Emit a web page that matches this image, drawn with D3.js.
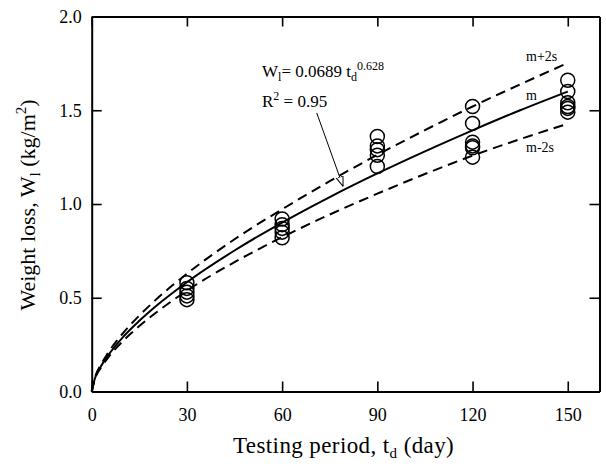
<!DOCTYPE html>
<html>
<head>
<meta charset="utf-8">
<script src="https://cdnjs.cloudflare.com/ajax/libs/d3/7.8.5/d3.min.js"></script>
<style>
  html, body { margin: 0; padding: 0; background: #fff; }
  svg { display: block; font-family: "Liberation Serif", "DejaVu Serif", serif; }
  .axis path, .axis line { stroke: #000; }
  .axis text { font-family: "Liberation Serif", serif; font-size: 18px; fill: #000; }
</style>
</head>
<body>
<div id="chart"></div>
<script>
// ── 1. DATA ────────────────────────────────────────────────────
const obsDay  = [30, 30, 30, 30, 30,
                 60, 60, 60, 60, 60,
                 90, 90, 90, 90, 90,
                 120, 120, 120, 120, 120, 120,
                 150, 150, 150, 150, 150, 150];
const obsLoss = [0.58, 0.55, 0.53, 0.51, 0.49,
                 0.92, 0.89, 0.87, 0.85, 0.82,
                 1.36, 1.31, 1.29, 1.26, 1.20,
                 1.52, 1.43, 1.33, 1.31, 1.30, 1.25,
                 1.66, 1.60, 1.54, 1.52, 1.51, 1.49];

// fitted curve (m) and the m±2s band
const fitDay   = [0, 1, 3, 5, 10, 15, 20, 30, 45, 60, 75, 90, 105, 120, 135, 150];
const fitMean  = [0, 0.069, 0.137, 0.189, 0.293, 0.377, 0.452, 0.583, 0.752, 0.901, 1.037, 1.163, 1.281, 1.393, 1.500, 1.600];
const fitUpper = [0, 0.073, 0.146, 0.202, 0.314, 0.405, 0.486, 0.628, 0.812, 0.972, 1.122, 1.262, 1.394, 1.520, 1.638, 1.752];
const fitLower = [0, 0.065, 0.129, 0.177, 0.272, 0.349, 0.417, 0.538, 0.690, 0.823, 0.944, 1.055, 1.160, 1.258, 1.346, 1.428];

const xTicks = [0, 30, 60, 90, 120, 150];
const yTicks = [0, 0.5, 1.0, 1.5, 2.0];

// ── 2. DIMENSIONS ──────────────────────────────────────────────
const W = 606, H = 468;
const margin = { top: 16.5, right: 6.5, bottom: 76.5, left: 91.7 };
const width  = W - margin.left - margin.right;
const height = H - margin.top  - margin.bottom;

const svg = d3.select("#chart")
  .append("svg")
    .attr("width", W)
    .attr("height", H);

const g = svg.append("g")
  .attr("transform", `translate(${margin.left},${margin.top})`);

// ── 3. SCALES ──────────────────────────────────────────────────
const x = d3.scaleLinear().domain([0, 160]).range([0, width]);
const y = d3.scaleLinear().domain([0, 2]).range([height, 0]);

// ── 4. AXES (ticks point inward on all four sides) ─────────────
g.append("g")
  .attr("class", "axis")
  .attr("transform", `translate(0,${height})`)
  .call(d3.axisBottom(x).tickValues(xTicks).tickSize(-10).tickSizeOuter(0).tickPadding(17))
  .call(s => s.select(".domain").attr("stroke-width", 2.2))
  .call(s => s.selectAll(".tick line").attr("stroke-width", 1.6));

g.append("g")
  .attr("class", "axis")
  .call(d3.axisLeft(y).tickValues(yTicks).tickFormat(d3.format(".1f")).tickSize(-10).tickSizeOuter(0).tickPadding(10))
  .call(s => s.select(".domain").attr("stroke-width", 2))
  .call(s => s.selectAll(".tick line").attr("stroke-width", 1.6));

g.append("g")
  .attr("class", "axis")
  .call(d3.axisTop(x).tickValues(xTicks).tickSize(-10).tickSizeOuter(0).tickFormat(""))
  .call(s => s.select(".domain").attr("stroke-width", 2))
  .call(s => s.selectAll(".tick line").attr("stroke-width", 1.6));

g.append("g")
  .attr("class", "axis")
  .attr("transform", `translate(${width},0)`)
  .call(d3.axisRight(y).tickValues(yTicks).tickSize(-10).tickSizeOuter(0).tickFormat(""))
  .call(s => s.select(".domain").attr("stroke-width", 2))
  .call(s => s.selectAll(".tick line").attr("stroke-width", 1.6));

// Axis titles
const xTitle = svg.append("text")
  .attr("x", margin.left + (x(0) + x(160)) / 2 - 2)
  .attr("y", 453)
  .attr("text-anchor", "middle")
  .attr("letter-spacing", "0.4px")
  .attr("font-size", "23px");
xTitle.append("tspan").text("Testing period, t");
xTitle.append("tspan").attr("font-size", "15px").attr("dy", 5).text("d");
xTitle.append("tspan").attr("dy", -5).text(" (day)");

const yTitle = svg.append("text")
  .attr("transform", "translate(35,205) rotate(-90)")
  .attr("text-anchor", "middle")
  .attr("font-size", "22px");
yTitle.append("tspan").text("Weight loss, W");
yTitle.append("tspan").attr("font-size", "15px").attr("dy", 5).text("l");
yTitle.append("tspan").attr("dy", -5).text(" (kg/m");
yTitle.append("tspan").attr("font-size", "15px").attr("dy", -9).text("2");
yTitle.append("tspan").attr("dy", 9).text(")");

// ── 5. CURVES ──────────────────────────────────────────────────
const curve = vals => d3.line()
  .x((d, i) => x(fitDay[i]))
  .y(d => y(d))
  .curve(d3.curveMonotoneX)(vals);

g.append("path")
  .attr("d", curve(fitMean))
  .attr("fill", "none")
  .attr("stroke", "#000")
  .attr("stroke-width", 2);

[fitUpper, fitLower].forEach(vals => {
  g.append("path")
    .attr("d", curve(vals))
    .attr("fill", "none")
    .attr("stroke", "#000")
    .attr("stroke-width", 2)
    .attr("stroke-dasharray", "10,6");
});

// ── 6. OBSERVATIONS ────────────────────────────────────────────
g.selectAll(".obs")
  .data(obsLoss)
  .join("circle")
    .attr("class", "obs")
    .attr("cx", (d, i) => x(obsDay[i]))
    .attr("cy", d => y(d))
    .attr("r", 7)
    .attr("fill", "none")
    .attr("stroke", "#000")
    .attr("stroke-width", 1.5);

// ── 7. ANNOTATIONS ─────────────────────────────────────────────
const eq = svg.append("text")
  .attr("x", 262)
  .attr("y", 76.5)
  .attr("font-size", "17px");
eq.append("tspan").text("W");
eq.append("tspan").attr("font-size", "12px").attr("dy", 4).text("l");
eq.append("tspan").attr("dy", -4).text("= 0.0689 t");
eq.append("tspan").attr("font-size", "12px").attr("dy", 4).text("d");
eq.append("tspan").attr("font-size", "12px").attr("dy", -11).text("0.628");

const r2 = svg.append("text")
  .attr("x", 262)
  .attr("y", 106.5)
  .attr("font-size", "17px");
r2.append("tspan").text("R");
r2.append("tspan").attr("font-size", "12px").attr("dy", -7).text("2");
r2.append("tspan").attr("dy", 7).text(" = 0.95");

// arrow pointing at the fitted curve
svg.append("defs").append("marker")
  .attr("id", "head")
  .attr("viewBox", "0 0 10 10")
  .attr("refX", 10).attr("refY", 5)
  .attr("markerWidth", 10).attr("markerHeight", 10)
  .attr("markerUnits", "userSpaceOnUse")
  .attr("orient", "auto")
  .append("path")
    .attr("d", "M0,1.5 L10,5 L0,8.5 Z")
    .attr("fill", "#fff")
    .attr("stroke", "#000")
    .attr("stroke-width", 1);

g.append("line")
  .attr("x1", x(70.9)).attr("y1", y(1.486))
  .attr("x2", x(79.2)).attr("y2", y(1.094))
  .attr("stroke", "#000")
  .attr("stroke-width", 1)
  .attr("marker-end", "url(#head)");

// band labels
const bandLabels = [
  { text: "m+2s", y: 60.7 },
  { text: "m",    y: 100 },
  { text: "m-2s", y: 151.7 }
];
svg.selectAll(".band-label")
  .data(bandLabels)
  .join("text")
    .attr("class", "band-label")
    .attr("x", 526)
    .attr("y", d => d.y)
    .attr("font-size", "14px")
    .text(d => d.text);
</script>
</body>
</html>
